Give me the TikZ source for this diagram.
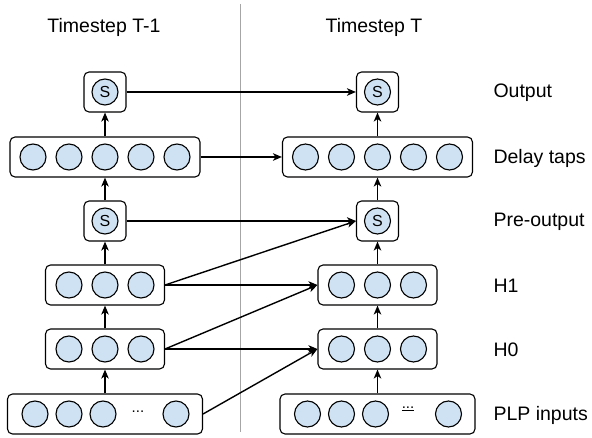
\documentclass[tikz,border=0pt]{standalone}
\usepackage{fontspec}
\setmainfont{Liberation Sans}
\usetikzlibrary{arrows.meta}
\definecolor{unitblue}{RGB}{207,226,243}

\begin{document}
\begin{tikzpicture}[x=1pt,y=-1pt,
  layer/.style={draw, rounded corners=5pt, line width=1.1pt, minimum height=40pt, inner sep=0pt},
  unit/.style={circle, draw, fill=unitblue, line width=1.1pt, minimum size=26pt, inner sep=0pt,
    font=\fontsize{16}{16}\selectfont},
  conn/.style={-{Stealth[length=9pt,width=7.5pt,inset=2.5pt]}, line width=1.4pt},
  txt/.style={font=\fontsize{19.5}{22}\selectfont}]
\useasboundingbox (0,0) rectangle (592,438);

\draw[black!35, line width=1pt] (240,4) -- (240,432);

\node[txt] (tprev) at (104,27) {Timestep T-1};
\node[txt] (tcur) at (374,27) {Timestep T};

% the same stack of layers for both timesteps
\foreach \col/\cx in {p/105, c/377.5} {
  \node[layer, minimum width=42pt] (\col out) at (\cx,92) {};
  \node[unit] (\col outs) at (\cx,92) {S};
  \node[layer, minimum width=190pt] (\col dly) at (\cx,157) {};
  \foreach \i/\dx in {1/-72,2/-36,3/0,4/36,5/72}
    \node[unit] (\col dly\i) at (\cx+\dx,157) {};
  \node[layer, minimum width=42pt] (\col pre) at (\cx,221) {};
  \node[unit] (\col pres) at (\cx,221) {S};
  \node[layer, minimum width=119pt] (\col hone) at (\cx,285) {};
  \node[layer, minimum width=119pt] (\col hzero) at (\cx,349) {};
  \foreach \i/\dx in {1/-36,2/0,3/36} {
    \node[unit] (\col hone\i) at (\cx+\dx,285) {};
    \node[unit] (\col hzero\i) at (\cx+\dx,349) {};
  }
  \node[layer, minimum width=195pt] (\col plp) at (\cx,414) {};
  \foreach \i/\dx in {1/-70,2/-36,3/-2,4/71}
    \node[unit] (\col plp\i) at (\cx+\dx,414) {};
  % inside each column
  \draw[conn] (\col plp) -- (\col hzero);
  \draw[conn] (\col hzero) -- (\col hone);
  \draw[conn] (\col hone) -- (\col pre);
  \draw[conn] (\col pre) -- (\col dly);
  \draw[conn] (\col dly) -- (\col out);
}
\node[font=\fontsize{15}{15}\selectfont] (pdots) at (138,412) {...};
\node[font=\fontsize{15}{15}\selectfont] (cdots) at (408,409) {\underline{...}};

% from T-1 to T
\draw[conn] (pout) -- (cout);
\draw[conn] (pdly) -- (cdly);
\draw[conn] (ppre) -- (cpre);
\draw[conn] (phone.east) -- (cpre.west);
\draw[conn] (phone) -- (chone);
\draw[conn] (phzero.east) -- (chone.west);
\draw[conn] (phzero) -- (chzero);
\draw[conn] (pplp.east) -- (chzero.west);

\foreach \y/\name/\t in {93/lout/Output, 158/ldly/Delay taps, 222/lpre/Pre-output,
    286/lhone/H1, 350/lhzero/H0, 415/lplp/PLP inputs}
  \node[txt, anchor=west] (\name) at (490,\y) {\t};
\end{tikzpicture}
\end{document}
